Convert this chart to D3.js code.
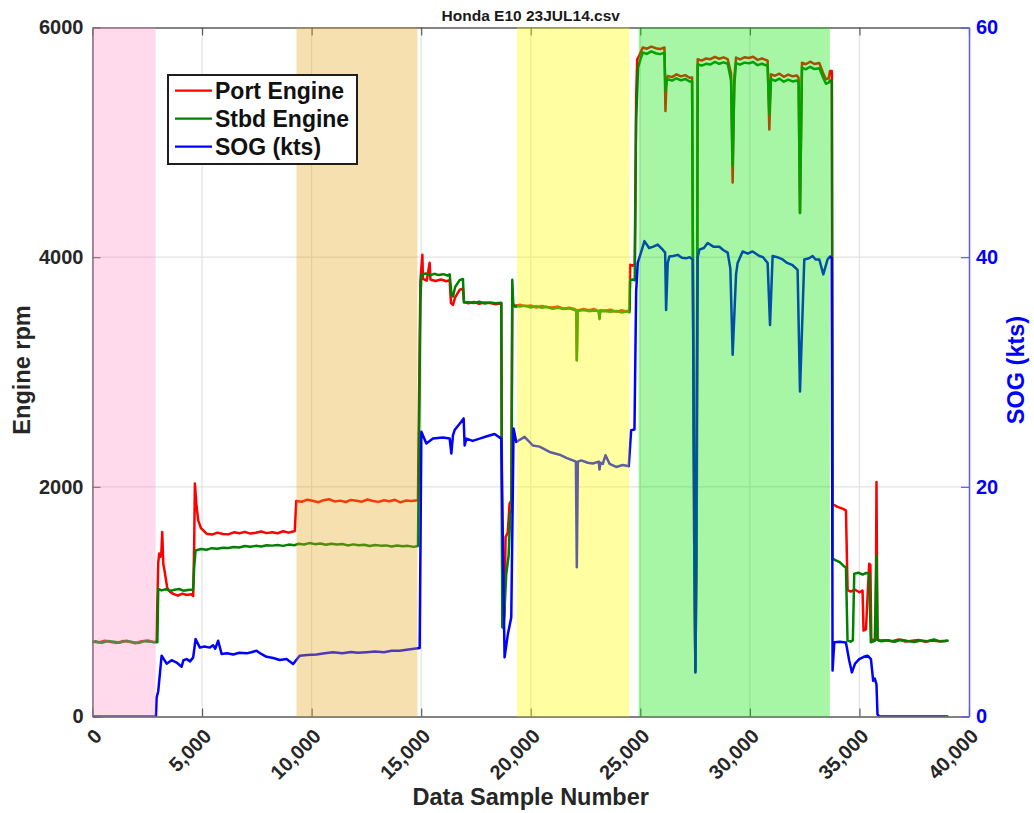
<!DOCTYPE html>
<html><head><meta charset="utf-8">
<script src="https://cdn.jsdelivr.net/npm/d3@7"></script>
<style>
html,body{margin:0;padding:0;background:#fff;}
svg{display:block;}
text{font-family:"Liberation Sans",Arial,Helvetica,sans-serif;font-weight:bold;}
</style></head><body>
<svg id="chart" width="1034" height="813"></svg>
<script>
// ---- chart text ----
const chartTitle = "Honda E10 23JUL14.csv";
const xLabel = "Data Sample Number";
const yLeftLabel = "Engine rpm";
const yRightLabel = "SOG (kts)";
const seriesNames = ["Port Engine", "Stbd Engine", "SOG (kts)"];

// ---- ticks ----
const xTicks = [0, 5000, 10000, 15000, 20000, 25000, 30000, 35000, 40000];
const rpmTicks = [0, 2000, 4000, 6000];
const sogTicks = [0, 20, 40, 60];

// ---- highlighted sample ranges [start, end] ----
const bandRanges = [[0, 2881], [9309, 14826], [19370, 24505], [24920, 33650]];

// ---- port engine rpm: [sample, rpm] ----
const portRpm = [
[0,652],[280,644],[560,660],[840,648],[1120,641],[1400,657],[1680,650],[1960,638],[2240,655],[2520,662],[2800,646],[2927,650],
[2954,950],[3000,1340],[3045,1420],[3100,1390],[3137,1400],[3182,1606],[3230,1330],[3305,1250],[3410,1120],[3550,1085],[3684,1068],[3900,1052],[4100,1070],[4300,1058],[4500,1064],[4595,1050],
[4640,1500],[4673,2028],[4740,1850],[4823,1708],[4950,1640],[5206,1592],[5450,1584],[5700,1601],[5950,1590],[6200,1586],[6450,1604],[6700,1596],[6950,1608],[7200,1593],[7450,1600],[7700,1611],[7950,1597],[8200,1605],[8450,1596],[8700,1613],[8950,1601],[9232,1615],
[9300,1877],[9550,1870],[9800,1888],[10050,1879],[10300,1866],[10550,1884],[10800,1892],[11050,1873],[11300,1880],[11550,1868],[11800,1886],[12050,1878],[12300,1871],[12550,1890],[12800,1876],[13050,1869],[13300,1883],[13550,1874],[13800,1887],[14050,1865],[14300,1880],[14550,1876],[14853,1884],
[14963,3790],[15054,4021],[15081,3810],[15250,3795],[15387,3951],[15420,3805],[15650,3792],[15900,3806],[16150,3790],[16299,3800],[16360,3600],[16451,3585],[16550,3650],[16755,3716],[16906,3725],[16951,3613],[17150,3598],[17400,3610],[17650,3594],[17900,3606],[18150,3601],[18400,3590],[18655,3598],
[18701,1100],[18740,780],[18800,900],[18851,1562],[18950,1600],[19034,1854],[19110,1880],[19157,3600],[19262,3575],[19500,3585],[19750,3572],[20000,3580],[20250,3562],[20500,3575],[20750,3566],[21000,3561],[21250,3570],[21500,3552],[21750,3560],[22000,3548],[22080,3540],[22102,3105],[22140,3535],[22400,3550],[22650,3538],[22900,3548],[23100,3530],[23137,3469],[23170,3538],[23400,3536],[23650,3542],[23900,3524],[24150,3538],[24350,3528],[24504,3540],
[24536,3934],[24650,3926],[24747,3940],[24810,5400],[24860,5720],[24960,5760],[25111,5826],[25300,5815],[25500,5834],[25700,5820],[25900,5812],[26101,5826],
[26147,5272],[26200,5560],[26251,5577],[26450,5568],[26650,5592],[26850,5574],[27050,5585],[27250,5562],[27363,5565],[27460,1500],[27513,400],[27573,1500],[27618,5723],[27800,5712],[28000,5730],[28200,5724],[28400,5745],[28600,5728],[28800,5740],[28986,5725],[29141,5600],[29214,4650],[29290,5560],[29369,5738],[29550,5722],[29750,5740],[29950,5734],[30150,5745],[30350,5718],[30550,5730],[30810,5712],
[30887,5112],[30964,5592],[31150,5580],[31350,5598],[31550,5571],[31750,5590],[31950,5575],[32150,5582],[32224,5560],[32287,4385],[32378,5694],[32550,5680],[32750,5702],[32950,5682],[33169,5690],[33350,5600],[33472,5549],[33600,5560],[33655,5621],[33740,5621],
[33773,1839],[33851,1842],[34000,1826],[34200,1812],[34384,1795],[34460,1100],[34600,1088],[34800,1104],[35000,1082],[35142,1097],[35188,748],[35298,760],[35444,1330],[35500,1320],[35540,670],[35740,665],[35778,2042],[35820,680],[35900,661],
[36200,664],[36500,655],[36800,671],[37100,652],[37400,660],[37700,667],[38000,650],[38300,662],[38600,656],[39015,660]
];

// ---- starboard engine rpm: [sample, rpm] ----
const stbdRpm = [
[0,645],[140,655],[420,641],[700,658],[980,650],[1260,643],[1540,660],[1820,648],[2100,639],[2380,656],[2660,651],[2960,647],
[3000,1112],[3150,1098],[3350,1108],[3550,1094],[3750,1104],[3950,1110],[4150,1096],[4350,1102],[4595,1106],
[4640,1300],[4705,1446],[4950,1458],[5200,1452],[5450,1466],[5700,1460],[5950,1470],[6200,1468],[6450,1476],[6700,1472],[6950,1484],[7200,1478],[7450,1486],[7700,1480],[7950,1492],[8200,1488],[8450,1494],[8700,1486],[8950,1497],[9232,1492],[9400,1504],[9650,1498],[9900,1510],[10150,1501],[10400,1506],[10650,1495],[10900,1505],[11150,1498],[11400,1502],[11650,1490],[11900,1499],[12150,1492],[12400,1496],[12650,1484],[12900,1494],[13150,1488],[13400,1490],[13650,1480],[13900,1489],[14150,1482],[14400,1486],[14650,1477],[14853,1485],
[14963,3600],[15008,3847],[15200,3858],[15400,3842],[15600,3855],[15800,3844],[16000,3852],[16200,3840],[16299,3850],[16380,3680],[16451,3657],[16550,3740],[16755,3800],[16906,3810],[16951,3605],[17150,3608],[17400,3600],[17650,3612],[17900,3597],[18150,3605],[18400,3599],[18655,3602],
[18701,777],[18760,770],[18883,1243],[18990,1400],[19066,1769],[19120,1800],[19157,3803],[19200,3600],[19262,3570],[19500,3570],[19750,3578],[20000,3562],[20250,3572],[20500,3560],[20750,3566],[21000,3550],[21250,3560],[21500,3548],[21750,3555],[22000,3540],[22080,3535],[22102,3100],[22140,3530],[22400,3540],[22650,3530],[22900,3536],[23100,3528],[23137,3460],[23170,3532],[23400,3530],[23650,3524],[23900,3532],[24150,3518],[24350,3526],[24504,3520],
[24536,3800],[24650,3806],[24747,3798],[24810,5200],[24900,5650],[25000,5720],[25111,5782],[25300,5770],[25500,5792],[25700,5776],[25900,5768],[26101,5780],[26147,5450],[26200,5530],[26251,5549],[26450,5538],[26650,5558],[26850,5540],[27050,5552],[27250,5530],[27363,5530],[27460,1500],[27513,390],[27573,1500],[27618,5680],[27800,5668],[28000,5684],[28200,5678],[28400,5700],[28600,5684],[28800,5696],[28986,5684],[29141,5540],[29214,4800],[29290,5500],[29369,5690],[29550,5676],[29750,5694],[29950,5688],[30150,5700],[30350,5672],[30550,5684],[30810,5666],[30887,5250],[30964,5550],[31150,5536],[31350,5554],[31550,5528],[31750,5546],[31950,5530],[32150,5538],[32224,5520],[32287,4385],[32378,5651],[32550,5636],[32750,5658],[32950,5638],[33169,5646],[33350,5560],[33472,5510],[33600,5520],[33655,5540],[33740,5530],
[33773,1374],[33900,1362],[34100,1344],[34300,1308],[34384,1300],[34457,661],[34600,652],[34700,664],[34763,1243],[34950,1252],[35150,1236],[35300,1250],[35444,1243],[35520,646],[35700,658],[35778,1403],[35830,665],
[36000,655],[36300,664],[36600,651],[36900,668],[37200,657],[37500,648],[37800,662],[38100,655],[38400,670],[38700,652],[39015,660]
];

// ---- speed over ground, knots: [sample, kts] ----
const sogKts = [
[0,0],[2895,0],[2927,1.66],[3000,2.2],[3155,5.3],[3383,4.6],[3611,4.9],[3839,4.7],[4067,4.34],[4150,4.9],[4295,5.0],[4450,4.8],[4595,5.15],[4705,6.75],[4901,6.0],[5100,6.1],[5357,6.0],[5507,6.2],[5600,5.9],[5735,6.6],[5890,5.45],[6150,5.5],[6419,5.4],[6700,5.55],[7030,5.5],[7250,5.6],[7486,5.73],[7700,5.45],[7942,5.2],[8250,5.1],[8548,4.92],[8854,5.0],[9155,4.57],[9460,5.3],[9800,5.35],[10221,5.4],[10600,5.5],[10978,5.59],[11400,5.5],[11800,5.62],[12100,5.55],[12501,5.6],[12900,5.65],[13300,5.6],[13650,5.72],[14019,5.73],[14500,5.85],[14930,5.97],
[15008,24.79],[15236,23.78],[15537,24.2],[15993,24.3],[16299,24.2],[16376,22.9],[16451,24.5],[16527,24.94],[16755,25.5],[16937,25.96],[16983,23.6],[17060,24.2],[17350,24.0],[17666,24.2],[18000,24.4],[18350,24.6],[18655,24.2],[18806,5.15],[18957,7.19],[19111,8.64],[19216,25.08],[19339,23.9],[19718,24.35],[20096,23.6],[20401,23.5],[20858,23.04],[21314,22.8],[21650,22.5],[21920,22.3],[22060,22.2],[22102,13.0],[22150,22.2],[22303,22.3],[22600,22.1],[22832,22.03],[23105,22.2],[23137,21.5],[23180,22.1],[23288,22.0],[23410,22.75],[23600,22.0],[23898,21.73],[24200,21.9],[24473,21.8],[24582,24.94],[24733,25.0],
[24810,37.0],[24883,39.5],[25111,40.9],[25189,41.4],[25400,40.8],[25567,40.9],[25795,41.1],[26023,40.65],[26133,40.4],[26177,35.4],[26251,39.5],[26328,40.06],[26500,40.1],[26706,40.2],[26900,39.95],[27089,39.9],[27250,40.0],[27390,39.8],[27513,3.84],[27618,40.0],[27695,40.65],[27900,40.8],[28073,41.23],[28350,40.9],[28607,40.9],[28800,40.6],[28986,40.4],[29109,39.0],[29214,31.5],[29369,38.5],[29442,39.5],[29670,40.5],[29900,40.3],[30126,40.5],[30431,40.1],[30600,40.0],[30810,39.5],[30919,34.1],[31038,40.1],[31250,40.0],[31494,39.8],[31700,39.5],[31950,39.3],[32178,38.9],[32287,28.3],[32483,39.8],[32700,39.9],[32862,40.1],[33000,39.8],[33169,39.8],[33351,38.5],[33545,39.8],[33655,40.06],[33740,39.9],
[33773,4.0],[33851,6.46],[34100,6.5],[34384,6.45],[34535,4.86],[34657,3.84],[34800,4.6],[34991,5.0],[35200,5.2],[35370,5.3],[35525,5.0],[35627,3.1],[35700,3.3],[35778,2.8],[35823,0.2],[35900,0],[39015,0]
];

// ---- layout & style ----
const W = 1034, H = 813;
const plot = {left: 92.5, right: 969, top: 27.5, bottom: 716.5};
const colors = {port: "#ff0000", stbd: "#008000", sog: "#0000ff", text: "#262626", axis: "#5a5a5a", grid: "#e2e2e2", rightAxis: "#5a5aff"};
const bandFill = ["rgb(255,149,201)", "rgb(229,166,29)", "rgb(255,255,0)", "rgb(0,229,0)"];
const bandOpacity = [0.35, 0.35, 0.37, 0.35];
const fontFamily = '"Liberation Sans", Arial, Helvetica, sans-serif';

const svg = d3.select("#chart");
svg.append("rect").attr("width", W).attr("height", H).attr("fill", "#fff");

const x = d3.scaleLinear().domain([0, 40000]).range([plot.left, plot.right]);
const yL = d3.scaleLinear().domain([0, 6000]).range([plot.bottom, plot.top]);
const yR = d3.scaleLinear().domain([0, 60]).range([plot.bottom, plot.top]);

svg.append("defs").append("clipPath").attr("id", "plotClip")
  .append("rect").attr("x", plot.left).attr("y", plot.top)
  .attr("width", plot.right - plot.left).attr("height", plot.bottom - plot.top);

// grid
const grid = svg.append("g");
grid.selectAll("line.gx").data(xTicks.slice(1, -1)).join("line")
  .attr("x1", d => x(d)).attr("x2", d => x(d)).attr("y1", plot.top).attr("y2", plot.bottom)
  .attr("stroke", colors.grid).attr("stroke-width", 1.2);
grid.selectAll("line.gy").data(rpmTicks.slice(1, -1)).join("line")
  .attr("y1", d => yL(d)).attr("y2", d => yL(d)).attr("x1", plot.left).attr("x2", plot.right)
  .attr("stroke", colors.grid).attr("stroke-width", 1.2);

// data lines
const lines = svg.append("g").attr("clip-path", "url(#plotClip)");
const lineL = d3.line().x(d => x(d[0])).y(d => yL(d[1]));
const lineR = d3.line().x(d => x(d[0])).y(d => yR(d[1]));
[[portRpm, colors.port, lineL], [stbdRpm, colors.stbd, lineL], [sogKts, colors.sog, lineR]].forEach(([data, c, gen]) => {
  lines.append("path").datum(data).attr("d", gen).attr("fill", "none")
    .attr("stroke", c).attr("stroke-width", 2.5).attr("stroke-linejoin", "round").attr("stroke-linecap", "round");
});

// axes
function styleAxis(g, color) {
  g.select(".domain").attr("stroke", color).attr("stroke-width", 1.5);
  g.selectAll(".tick line").attr("stroke", color).attr("stroke-width", 1.2);
  g.selectAll(".tick text").attr("font-family", fontFamily).attr("font-weight", "bold")
    .attr("font-size", 20);
}
const gBottom = svg.append("g").attr("transform", `translate(0,${plot.bottom})`)
  .call(d3.axisBottom(x).tickValues(xTicks).tickFormat(d3.format(",")).tickSizeInner(-8).tickSizeOuter(0));
styleAxis(gBottom, colors.axis);
gBottom.selectAll(".tick text").attr("fill", colors.text).attr("text-anchor", "end")
  .attr("x", null).attr("y", null).attr("dy", null)
  .attr("transform", "translate(10,21) rotate(-45)");

const gTop = svg.append("g").attr("transform", `translate(0,${plot.top})`)
  .call(d3.axisTop(x).tickValues(xTicks).tickFormat("").tickSizeInner(-8).tickSizeOuter(0));
styleAxis(gTop, colors.axis);

const gLeft = svg.append("g").attr("transform", `translate(${plot.left},0)`)
  .call(d3.axisLeft(yL).tickValues(rpmTicks).tickFormat(d3.format("d")).tickSizeInner(-8).tickSizeOuter(0).tickPadding(9));
styleAxis(gLeft, colors.axis);
gLeft.selectAll(".tick text").attr("fill", colors.text);

const gRight = svg.append("g").attr("transform", `translate(${plot.right},0)`)
  .call(d3.axisRight(yR).tickValues(sogTicks).tickFormat(d3.format("d")).tickSizeInner(-8).tickSizeOuter(0).tickPadding(7));
styleAxis(gRight, colors.rightAxis);
gRight.selectAll(".tick text").attr("fill", colors.sog);

// highlighted ranges, translucent over everything in the plot
svg.append("g").selectAll("rect").data(bandRanges).join("rect")
  .attr("x", d => x(d[0])).attr("width", d => x(d[1]) - x(d[0]))
  .attr("y", plot.top).attr("height", plot.bottom - plot.top)
  .attr("fill", (d, i) => bandFill[i]).attr("fill-opacity", (d, i) => bandOpacity[i]);

// titles
svg.append("text").attr("x", (plot.left + plot.right) / 2).attr("y", 20.5)
  .attr("text-anchor", "middle").attr("font-size", 15.5).attr("fill", "#1a1a1a").text(chartTitle);
svg.append("text").attr("x", (plot.left + plot.right) / 2).attr("y", 805)
  .attr("text-anchor", "middle").attr("font-size", 23.5).attr("fill", colors.text).text(xLabel);
svg.append("text").attr("transform", "translate(30,370) rotate(-90)")
  .attr("text-anchor", "middle").attr("font-size", 23.5).attr("fill", colors.text).text(yLeftLabel);
svg.append("text").attr("transform", "translate(1024,370) rotate(-90)")
  .attr("text-anchor", "middle").attr("font-size", 23.5).attr("fill", colors.sog).text(yRightLabel);

// legend
const legend = svg.append("g").attr("transform", "translate(168,75)");
legend.append("rect").attr("width", 189).attr("height", 89).attr("fill", "#fff")
  .attr("stroke", "#1e1e1e").attr("stroke-width", 2);
const legendColors = [colors.port, colors.stbd, colors.sog];
seriesNames.forEach((name, i) => {
  const yy = 15.7 + i * 28;
  legend.append("line").attr("x1", 7).attr("x2", 44).attr("y1", yy).attr("y2", yy)
    .attr("stroke", legendColors[i]).attr("stroke-width", 2.2);
  legend.append("text").attr("x", 47).attr("y", yy + 8.3).attr("font-size", 23)
    .attr("fill", "#111").text(name);
});
</script>
</body></html>
